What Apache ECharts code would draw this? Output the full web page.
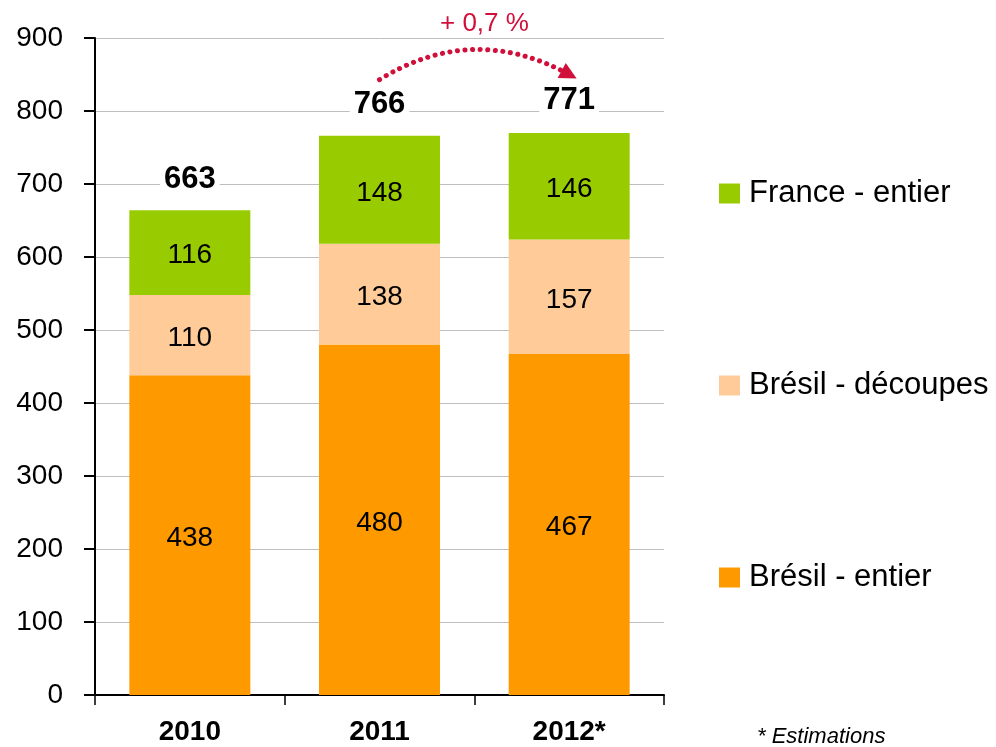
<!DOCTYPE html>
<html>
<head>
<meta charset="utf-8">
<script src="https://cdn.jsdelivr.net/npm/echarts@6/dist/echarts.min.js"></script>
<style>
html, body { margin: 0; padding: 0; background: #fff; }
#chart { width: 996px; height: 747px; }
</style>
</head>
<body>
<div id="chart"></div>
<script>
const years = ['2010', '2011', '2012*'];
const bresilEntier = [438, 480, 467];
const bresilDecoupes = [110, 138, 157];
const franceEntier = [116, 148, 146];
const totals = [663, 766, 771];
const growthLabel = '+ 0,7 %';

const FONT = '"Liberation Sans", Arial, sans-serif';

function stackSeries(name, values, color) {
    return {
        name: name,
        type: 'bar',
        stack: 'total',
        barWidth: 121,
        data: values,
        itemStyle: { color: color },
        label: {
            show: true,
            position: 'inside',
            offset: [0, 3],
            color: '#000',
            fontFamily: FONT,
            fontSize: 28
        }
    };
}

const chart = echarts.init(document.getElementById('chart'));
chart.setOption({
    backgroundColor: '#fff',
    animation: false,
    grid: { left: 95, right: 332, top: 38, bottom: 52, containLabel: false },
    legend: {
        orient: 'vertical',
        left: 714,
        top: 173,
        itemWidth: 21,
        itemHeight: 20,
        itemGap: 161,
        icon: 'rect',
        selectedMode: false,
        data: ['France - entier', 'Brésil - découpes', 'Brésil - entier'],
        textStyle: {
            color: '#000',
            fontFamily: FONT,
            fontSize: 31,
            lineHeight: 30,
            padding: [0, 0, 0, 4]
        }
    },
    xAxis: {
        type: 'category',
        data: years,
        axisLine: { lineStyle: { color: '#000', width: 2 } },
        axisTick: { show: true, length: 10, lineStyle: { color: '#000', width: 1.5 } },
        axisLabel: {
            color: '#000',
            fontFamily: FONT,
            fontSize: 28,
            fontWeight: 'bold',
            lineHeight: 28,
            margin: 23
        }
    },
    yAxis: {
        type: 'value',
        min: 0,
        max: 900,
        interval: 100,
        axisLine: { show: true, lineStyle: { color: '#000', width: 2 } },
        axisTick: { show: true, length: 11, lineStyle: { color: '#000', width: 2 } },
        axisLabel: {
            color: '#000',
            fontFamily: FONT,
            fontSize: 28,
            margin: 32
        },
        splitLine: { lineStyle: { color: '#BEBEBE', width: 1 } }
    },
    series: [
        stackSeries('Brésil - entier', bresilEntier, '#FF9900'),
        stackSeries('Brésil - découpes', bresilDecoupes, '#FFCC99'),
        stackSeries('France - entier', franceEntier, '#99CC00'),
        {
            name: 'Total',
            type: 'bar',
            barWidth: 121,
            barGap: '-100%',
            data: totals,
            z: 1,
            itemStyle: { color: 'rgba(0,0,0,0)' },
            label: {
                show: true,
                position: 'top',
                distance: 16,
                color: '#000',
                fontFamily: FONT,
                fontSize: 31,
                fontWeight: 'bold',
                backgroundColor: '#fff',
                padding: [0, 4]
            }
        },
        {
            // growth arrow 2011 -> 2012, drawn just above the totals
            type: 'lines',
            coordinateSystem: 'cartesian2d',
            z: 5,
            symbol: ['none', 'triangle'],
            symbolSize: 17,
            lineStyle: {
                color: '#D0103A',
                width: 5,
                type: [0.1, 7.5],
                cap: 'round',
                curveness: 0.29,
                opacity: 1
            },
            data: [{ coords: [[years[1], totals[1] + 77], [years[2], totals[2] + 79]] }]
        }
    ],
    graphic: [{
        type: 'text',
        left: 440,
        top: 11,
        style: {
            text: growthLabel,
            fill: '#D0103A',
            font: '26px ' + FONT
        }
    }, {
        type: 'text',
        left: 757,
        top: 726,
        style: {
            text: '* Estimations',
            fill: '#000',
            font: 'italic 22px ' + FONT
        }
    }]
});
</script>
</body>
</html>
